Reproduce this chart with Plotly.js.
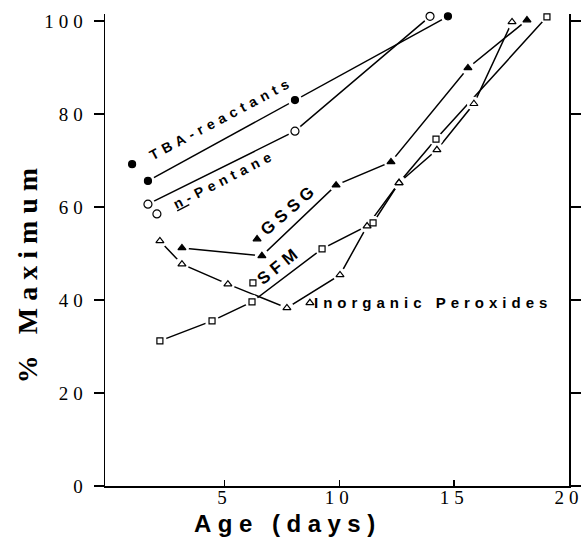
<!DOCTYPE html>
<html><head><meta charset="utf-8">
<script src="https://cdn.plot.ly/plotly-3.0.1.min.js"></script>
<style>
html,body{margin:0;padding:0;background:#fff;}
#chart{width:584px;height:543px;}
.ytick text, .xtick text {letter-spacing:5px;}
.annotation-text {letter-spacing:5px;}
</style></head><body><div id="chart"></div>
<script>
// Data (Age in days, % Maximum)
const tbaX = [1.67, 8.07, 14.73];
const tbaY = [65.6, 83.0, 101.0];
const pentX = [1.67, 8.07, 13.95];
const pentY = [60.6, 76.3, 101.0];
const gssgX = [3.15, 6.63, 9.86, 12.25, 15.6, 18.17];
const gssgY = [51.2, 49.5, 64.7, 69.7, 89.9, 100.2];
const sfmX = [2.19, 4.46, 6.20, 9.25, 11.47, 12.6, 14.21, 19.04];
const sfmY = [31.2, 35.5, 39.6, 51.0, 56.6, 65.2, 74.6, 100.9];
const inorgX = [2.19, 3.15, 5.15, 7.72, 10.03, 11.21, 12.6, 14.25, 15.86, 17.52];
const inorgY = [52.7, 47.7, 43.4, 38.3, 45.4, 55.9, 65.2, 72.3, 82.2, 99.8];
// label key markers placed beside the in-plot labels
const keyNames = ['TBA-reactants', 'n-Pentane', 'GSSG', 'SFM', 'Inorganic Peroxides'];
const keyX = [0.98, 2.06, 6.42, 6.24, 8.72];
const keyY = [69.2, 58.5, 53.1, 43.7, 39.4];
const yTicks = [0, 20, 40, 60, 80, 100];
const xTicks = [5, 10, 15, 20];

const styles = {
  'TBA-reactants': {symbol: 'circle', fill: 'black', size: 7},
  'n-Pentane': {symbol: 'circle', fill: 'white', size: 8},
  'GSSG': {symbol: 'triangle-up', fill: 'black', size: 7},
  'SFM': {symbol: 'square', fill: 'white', size: 6},
  'Inorganic Peroxides': {symbol: 'triangle-up', fill: 'white', size: 7}
};
const series = [
  ['TBA-reactants', tbaX, tbaY],
  ['n-Pentane', pentX, pentY],
  ['GSSG', gssgX, gssgY],
  ['SFM', sfmX, sfmY],
  ['Inorganic Peroxides', inorgX, inorgY]
];
const traces = [];
series.forEach(([n, x, y]) => traces.push({x, y, mode: 'lines', type: 'scatter', name: n,
  line: {color: 'black', width: 1.5}, showlegend: false, cliponaxis: false, hoverinfo: 'skip'}));
series.forEach(([n, x, y]) => traces.push({x, y, mode: 'markers', type: 'scatter', showlegend: false,
  marker: {color: 'white', size: 14, symbol: 'circle', opacity: 1, line: {width: 0}}, cliponaxis: false, hoverinfo: 'skip'}));
series.forEach(([n, x, y]) => {
  const s = styles[n];
  let sym = s.symbol;
  if (n === 'SFM') sym = x.map((v, i) => i === 5 ? 'triangle-up' : 'square');
  traces.push({x, y, mode: 'markers', type: 'scatter', name: n, showlegend: false, cliponaxis: false,
    marker: {color: s.fill, opacity: 1, size: (n === 'SFM') ? x.map((v, i) => i === 5 ? 7 : 6) : s.size, symbol: sym, line: {color: 'black', width: 1.2}}});
});
traces.push({x: keyX, y: keyY, mode: 'markers', type: 'scatter', showlegend: false, cliponaxis: false,
  marker: {color: keyNames.map(n => styles[n].fill), size: keyNames.map(n => styles[n].size), opacity: 1,
    symbol: keyNames.map(n => styles[n].symbol), line: {color: 'black', width: 1.2}}});

const lblFont = (sz) => ({family: 'Liberation Sans, Arial, sans-serif', size: sz, color: 'black'});
const annotations = [
  {text: '<b>TBA-reactants</b>', x: 4.89, y: 79.1, textangle: -28, font: lblFont(14)},
  {text: '<b><span style="text-decoration:underline">n</span>-Pentane</b>', x: 5.02, y: 66.0, textangle: -27, font: lblFont(14)},
  {text: '<b>GSSG</b>', x: 7.82, y: 59.4, textangle: -41, font: lblFont(17)},
  {text: '<b>SFM</b>', x: 7.38, y: 47.4, textangle: -39, font: lblFont(17)},
  {text: '<b>Inorganic Peroxides</b>', x: 14.08, y: 39.4, textangle: 0, font: lblFont(15)},
  {text: '<b><span style="letter-spacing:7px">% Maximum</span></b>', xref: 'paper', yref: 'paper', x: -0.168, y: 0.453,
   textangle: -90, font: {family: 'Liberation Serif, Times New Roman, serif', size: 28, color: 'black'}},
  {text: '<b><span style="letter-spacing:6.5px">Age (days)</span></b>', xref: 'paper', yref: 'paper', x: 0.394, y: -0.0784,
   textangle: 0, font: {family: 'Liberation Sans, Arial, sans-serif', size: 24, color: 'black'}}
].map(a => Object.assign({xref: 'x', yref: 'y', showarrow: false, xanchor: 'center', yanchor: 'middle'}, a));

const layout = {
  width: 584, height: 543,
  margin: {l: 105, r: 15, t: 14, b: 57},
  paper_bgcolor: 'white', plot_bgcolor: 'white',
  showlegend: false,
  xaxis: {range: [-0.2, 20], tickvals: xTicks, ticktext: xTicks.map(String), ticks: 'inside', ticklen: 6, tickwidth: 1.5,
    tickcolor: 'black', showline: true, linewidth: 1.5, linecolor: 'black', showgrid: false, zeroline: false,
    ticklabelstandoff: -6,
    tickfont: {family: 'Liberation Serif, Times New Roman, serif', size: 19, color: 'black'}},
  yaxis: {range: [0, 101.5], tickvals: yTicks, ticktext: yTicks.map(String), ticks: 'outside', ticklen: 10, tickwidth: 1.5,
    tickcolor: 'black', showline: true, mirror: 'ticks', linewidth: 1.5, linecolor: 'black', showgrid: false, zeroline: false,
    ticklabelstandoff: 2,
    tickfont: {family: 'Liberation Serif, Times New Roman, serif', size: 19, color: 'black'}},
  annotations
};
Plotly.newPlot('chart', traces, layout, {staticPlot: true, displayModeBar: false});
</script></body></html>
